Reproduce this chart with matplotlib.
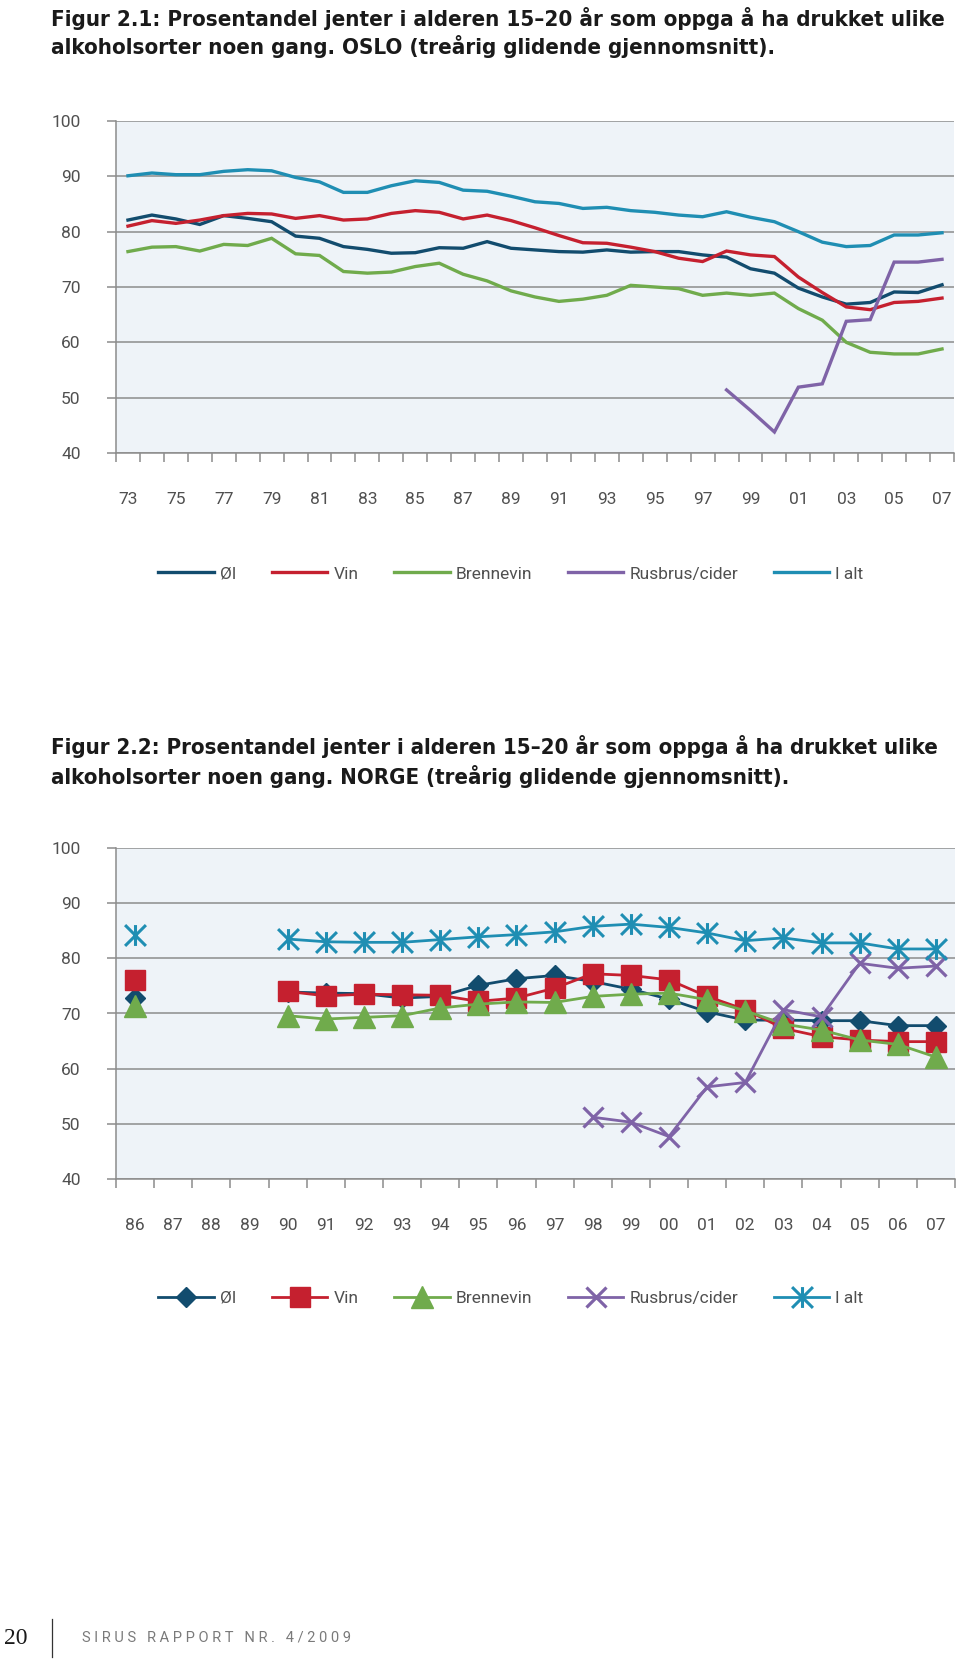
import numpy as np
import matplotlib
matplotlib.use('Agg')
import matplotlib.pyplot as plt
from matplotlib import font_manager as fm
from matplotlib.path import Path
from matplotlib.lines import Line2D

plt.rcParams['font.family'] = ['Roboto', 'DejaVu Sans']

# --- data: Figur 2.1 OSLO (1973-2007) ---
years_oslo = list(range(1973, 2008))
ol_oslo = [82.1, 83.0, 82.3, 81.3, 82.9, 82.4, 81.8, 79.2, 78.8, 77.3,
           76.8, 76.1, 76.2, 77.1, 77.0, 78.2, 77.0, 76.7, 76.4, 76.3,
           76.7, 76.3, 76.4, 76.4, 75.8, 75.4, 73.3, 72.5, 69.8, 68.2,
           66.9, 67.2, 69.1, 69.0, 70.4]
vin_oslo = [81.0, 82.0, 81.5, 82.1, 82.9, 83.3, 83.2, 82.4, 82.9, 82.1,
            82.3, 83.3, 83.8, 83.5, 82.3, 83.0, 82.0, 80.7, 79.3, 78.0,
            77.9, 77.2, 76.4, 75.2, 74.6, 76.5, 75.8, 75.5, 71.8, 69.0,
            66.4, 65.9, 67.2, 67.4, 68.0]
brennevin_oslo = [76.4, 77.2, 77.3, 76.5, 77.7, 77.5, 78.8, 76.0, 75.7, 72.8,
                  72.5, 72.7, 73.7, 74.3, 72.3, 71.1, 69.3, 68.2, 67.4, 67.8,
                  68.5, 70.3, 70.0, 69.7, 68.5, 68.9, 68.5, 68.9, 66.1, 64.0,
                  60.0, 58.2, 57.9, 57.9, 58.8]
rusbrus_oslo = [None, None, None, None, None, None, None, None, None, None,
                None, None, None, None, None, None, None, None, None, None,
                None, None, None, None, None, 51.4, 47.7, 43.8, 51.9, 52.5,
                63.8, 64.1, 74.5, 74.5, 75.0]
ialt_oslo = [90.1, 90.6, 90.3, 90.3, 90.9, 91.2, 91.0, 89.8, 89.0, 87.1,
             87.1, 88.3, 89.2, 88.9, 87.5, 87.3, 86.4, 85.4, 85.1, 84.2,
             84.4, 83.8, 83.5, 83.0, 82.7, 83.6, 82.6, 81.8, 80.0, 78.1,
             77.3, 77.5, 79.4, 79.4, 79.8]

# --- data: Figur 2.2 NORGE (1986-2007) ---
years_norge = list(range(1986, 2008))
ol_norge = [72.8, None, None, None, 73.9, 73.7, 73.6, 72.8, 73.1, 75.1, 76.3,
            76.9, 75.8, 74.4, 72.6, 70.3, 68.8, 68.8, 68.7, 68.7, 67.8, 67.8]
vin_norge = [76.1, None, None, None, 74.0, 73.2, 73.5, 73.4, 73.3, 72.2, 72.8,
             74.6, 77.2, 76.9, 76.1, 73.1, 70.7, 67.3, 65.8, 65.2, 64.9, 64.9]
brennevin_norge = [71.4, None, None, None, 69.6, 69.0, 69.3, 69.6, 71.0, 71.7, 72.1,
                   72.0, 73.1, 73.5, 73.7, 72.5, 70.5, 68.1, 67.0, 65.2, 64.4, 62.1]
rusbrus_norge = [None, None, None, None, None, None, None, None, None, None, None,
                 None, 51.2, 50.3, 47.7, 56.7, 57.5, 70.7, 69.4, 79.1, 78.2, 78.6]
ialt_norge = [84.3, None, None, None, 83.5, 83.0, 82.9, 82.9, 83.4, 83.9, 84.3,
              84.8, 85.8, 86.2, 85.6, 84.6, 83.2, 83.7, 82.8, 82.8, 81.7, 81.7]

labels = ['Øl', 'Vin', 'Brennevin', 'Rusbrus/cider', 'I alt']
colors = ['#124C6E', '#C5202F', '#70AB4C', '#7F63A7', '#1F8EB3']

BG = '#EEF3F8'
GRID = '#8C8C8C'
TXT = '#505050'

W, H = 960, 1663
fig = plt.figure(figsize=(W / 100, H / 100), dpi=100)


def fx(px):
    return px / W


def fy(py):
    return 1 - py / H


# condensed bold font for the titles if one is installed
cond_bold = None
for f in fm.fontManager.ttflist:
    n = f.fname.lower()
    if ('condensed' in n or 'narrow' in n) and 'bold' in n and 'oblique' not in n and 'italic' not in n:
        cond_bold = f.fname
        break
if cond_bold:
    title_fp = fm.FontProperties(fname=cond_bold)
else:
    title_fp = fm.FontProperties(family='DejaVu Sans', weight='bold')

renderer = fig.canvas.get_renderer()


def fit_width(t, target):
    w = t.get_window_extent(renderer).width
    t.set_fontsize(t.get_fontsize() * target / w)


def title(lines, y1, y2):
    t1 = fig.text(fx(51), fy(y1), lines[0], fontproperties=title_fp, fontsize=15,
                  va='center', ha='left', color='#1A1A1A')
    fit_width(t1, 893)
    fig.text(fx(51), fy(y2), lines[1], fontproperties=title_fp,
             fontsize=t1.get_fontsize(), va='center', ha='left', color='#1A1A1A')


def style_axes(ax, n, tick_pos, tick_lab):
    ax.set_facecolor(BG)
    ax.set_xlim(-0.5, n - 0.5)
    ax.set_ylim(40, 100)
    ax.set_yticks(range(40, 101, 10))
    ax.yaxis.grid(True, color=GRID, lw=1.1)
    ax.set_axisbelow(True)
    ax.spines['top'].set_visible(False)
    ax.spines['right'].set_visible(False)
    for s in ['left', 'bottom']:
        ax.spines[s].set_color(GRID)
        ax.spines[s].set_linewidth(1.1)
    ax.set_xticks(tick_pos)
    ax.set_xticklabels(tick_lab)
    ax.set_xticks(np.arange(-0.5, n), minor=True)
    ax.tick_params(axis='x', which='major', length=0, pad=28, labelsize=12.5, labelcolor=TXT)
    ax.tick_params(axis='x', which='minor', length=6.5, width=1.1, color=GRID, direction='out')
    ax.tick_params(axis='y', length=6.5, width=1.1, color=GRID, pad=19, labelsize=12.5, labelcolor=TXT)


def arr(v):
    return np.array([np.nan if x is None else x for x in v], dtype=float)


# ---------------- Figur 2.1 ----------------
title(['Figur 2.1: Prosentandel jenter i alderen 15–20 år som oppga å ha drukket ulike',
       'alkoholsorter noen gang. OSLO (treårig glidende gjennomsnitt).'], 18, 47)

ax1 = fig.add_axes([fx(116), fy(453), fx(954) - fx(116), fy(121) - fy(453)])
x1 = np.arange(len(years_oslo))
for ser, lab, c in zip([ol_oslo, vin_oslo, brennevin_oslo, rusbrus_oslo, ialt_oslo], labels, colors):
    ax1.plot(x1, arr(ser), color=c, lw=2.4, label=lab, solid_joinstyle='miter')
style_axes(ax1, len(years_oslo), x1[::2], ['%02d' % (y % 100) for y in years_oslo[::2]])

h, l = ax1.get_legend_handles_labels()
fig.legend(h, l, loc='center', bbox_to_anchor=(fx(511), fy(574)), ncol=5, frameon=False,
           handlelength=3.2, handletextpad=0.35, columnspacing=2.05, fontsize=12.5, labelcolor=TXT)

# ---------------- Figur 2.2 ----------------
title(['Figur 2.2: Prosentandel jenter i alderen 15–20 år som oppga å ha drukket ulike',
       'alkoholsorter noen gang. NORGE (treårig glidende gjennomsnitt).'], 747, 776)

ax2 = fig.add_axes([fx(116), fy(1179), fx(955) - fx(116), fy(848) - fy(1179)])
x2 = np.arange(len(years_norge))

asterisk = Path([(0, -1), (0, 1), (-1, -1), (1, 1), (-1, 1), (1, -1)],
                [Path.MOVETO, Path.LINETO, Path.MOVETO, Path.LINETO, Path.MOVETO, Path.LINETO])
marker_kw = [
    dict(marker='D', ms=10.5, mew=1),
    dict(marker='s', ms=15, mew=1),
    dict(marker='^', ms=16.5, mew=1),
    dict(marker='x', ms=14.5, mew=2.3),
    dict(marker=asterisk, ms=15, mew=2.2, mfc='none'),
]
for ser, lab, c, mk in zip([ol_norge, vin_norge, brennevin_norge, rusbrus_norge, ialt_norge],
                           labels, colors, marker_kw):
    ax2.plot(x2, arr(ser), color=c, lw=2.0, label=lab, mec=c, **mk)
style_axes(ax2, len(years_norge), x2, ['%02d' % (y % 100) for y in years_norge])

h, l = ax2.get_legend_handles_labels()
fig.legend(h, l, loc='center', bbox_to_anchor=(fx(511), fy(1298)), ncol=5, frameon=False,
           numpoints=1, handlelength=3.2, handletextpad=0.35, columnspacing=2.05,
           fontsize=12.5, labelcolor=TXT)

# ---------------- footer ----------------
fig.text(fx(4), fy(1639), '20', family=['Liberation Serif', 'DejaVu Serif'], fontsize=17,
         va='center', ha='left', color='#1A1A1A')
fig.add_artist(Line2D([fx(52), fx(52)], [fy(1619), fy(1657)], transform=fig.transFigure,
                      color='#333333', lw=0.9))
ft = fig.text(fx(82), fy(1638), 'S I R U S   R A P P O R T   N R .   4 / 2 0 0 9',
              fontsize=10, va='center', ha='left', color='#7A7A7A')
fit_width(ft, 271)

fig.savefig('out.png', dpi=100)
